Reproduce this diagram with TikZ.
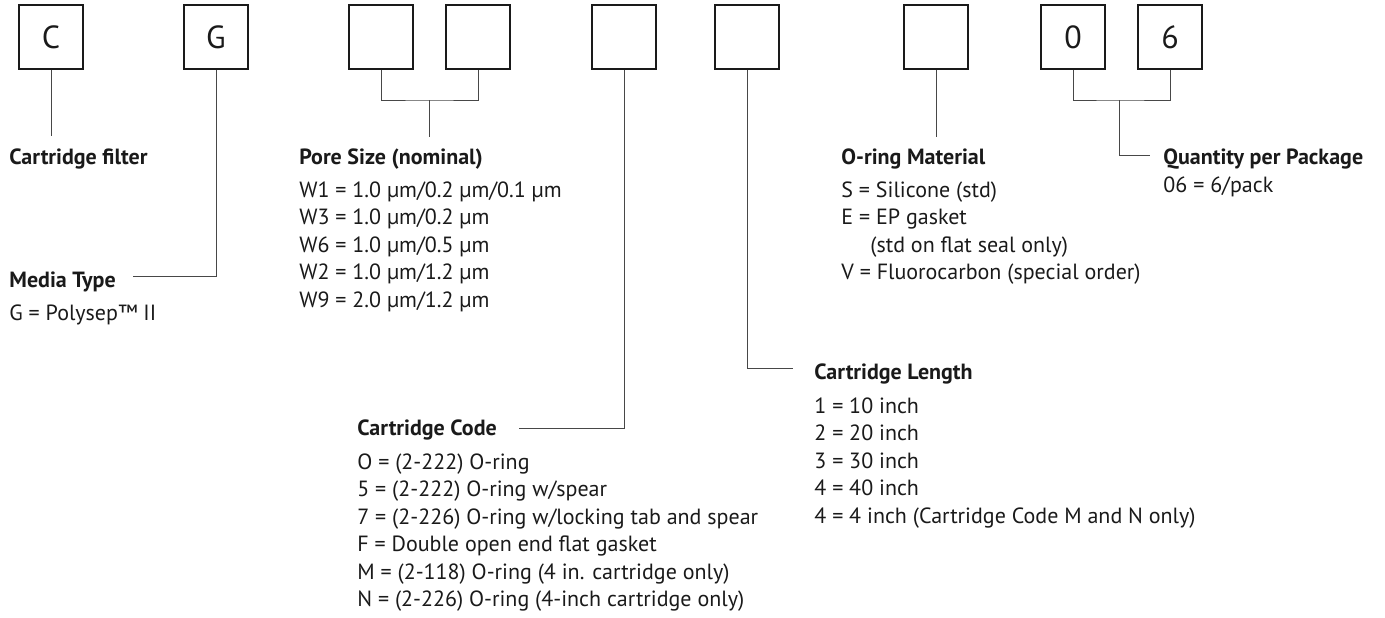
\documentclass[tikz,border=0pt]{standalone}
\usepackage{fontspec}
\setmainfont{PT Sans}
\usepackage{xcolor}
\definecolor{Ink}{HTML}{1A1A1A}
\definecolor{Rule}{HTML}{474747}

\tikzset{
  codebox/.style={draw=Ink,line width=.65pt,minimum size=32pt,inner sep=0pt,
    font=\fontsize{16}{16}\selectfont,text=Ink},
  heading/.style={anchor=base west,inner sep=0pt,text=Ink,
    font=\fontsize{11}{13.75}\selectfont\bfseries},
  % el ancla base de una lista de varias líneas cae en la última línea
  entries/.style={anchor=base west,inner sep=0pt,align=left,text=Ink,
    font=\fontsize{11}{13.75}\selectfont},
  lead/.style={draw=Rule,line width=.5pt},
}

\begin{document}
\begin{tikzpicture}[x=.5pt,y=-.5pt]
  \useasboundingbox (0,0) rectangle (1385,617);

  % Casillas del número de pedido, de izquierda a derecha.
  \node[codebox] (bC)   at (51,37)   {C};
  \node[codebox] (bG)   at (216,37)  {G};
  \node[codebox] (bP1)  at (381,37)  {};
  \node[codebox] (bP2)  at (478,37)  {};
  \node[codebox] (bCode) at (624,37) {};
  \node[codebox] (bLen) at (747,37)  {};
  \node[codebox] (bOr)  at (936,37)  {};
  \node[codebox] (bQ1)  at (1073,37) {0};
  \node[codebox] (bQ2)  at (1170,37) {6};

  % Rótulos y listas de opciones bajo cada casilla.
  \node[heading] (tFilter) at (9,164) {Cartridge filter};

  \node[heading] (tMedia) at (9,287) {Media Type};
  \node[entries] (lMedia) at (9,320) {G = Polysep™ II};

  \node[heading] (tPore) at (299,164) {Pore Size (nominal)};
  \node[entries] (lPore) at (299,307)
    {W1 = 1.0 µm/0.2 µm/0.1 µm\\ W3 = 1.0 µm/0.2 µm\\ W6 = 1.0 µm/0.5 µm\\
     W2 = 1.0 µm/1.2 µm\\ W9 = 2.0 µm/1.2 µm};

  \node[heading] (tCode) at (357,435) {Cartridge Code};
  \node[entries] (lCode) at (357,606.5)
    {O = (2-222) O-ring\\ 5 = (2-222) O-ring w/spear\\
     7 = (2-226) O-ring w/locking tab and spear\\ F = Double open end flat gasket\\
     M = (2-118) O-ring (4 in. cartridge only)\\ N = (2-226) O-ring (4-inch cartridge only)};

  \node[heading] (tLen) at (814,379) {Cartridge Length};
  \node[entries] (lLen) at (814,523)
    {1 = 10 inch\\ 2 = 20 inch\\ 3 = 30 inch\\ 4 = 40 inch\\
     4 = 4 inch (Cartridge Code M and N only)};

  \node[heading] (tOring) at (841,164) {O-ring Material};
  \node[entries] (lOring) at (841,279.5)
    {S = Silicone (std)\\ E = EP gasket\\ \hspace*{14.5pt}(std on flat seal only)\\
     V = Fluorocarbon (special order)};

  \node[heading] (tQty) at (1163,164) {Quantity per Package};
  \node[entries] (lQty) at (1163,192) {06 = 6/pack};

  % Extremos libres de las líneas guía.
  \coordinate (jC)    at (51,136);
  \coordinate (jG)    at (133,276);
  \coordinate (jP)    at (429,100);
  \coordinate (jPe)   at (429,137);
  \coordinate (jCode) at (519,428);
  \coordinate (jLen)  at (793,368);
  \coordinate (jOr)   at (936,137);
  \coordinate (jQ)    at (1119,100);
  \coordinate (jQe)   at (1150,155);

  \draw[lead] (bC.south) -- (jC);
  \draw[lead] (bG.south) |- (jG);
  \draw[lead] (bP1.south) |- (jP) -| (bP2.south);
  \draw[lead] (jP) -- (jPe);
  \draw[lead] (bCode.south) |- (jCode);
  \draw[lead] (bLen.south) |- (jLen);
  \draw[lead] (bOr.south) -- (jOr);
  \draw[lead] (bQ1.south) |- (jQ) -| (bQ2.south);
  \draw[lead] (jQ) |- (jQe);
\end{tikzpicture}
\end{document}
